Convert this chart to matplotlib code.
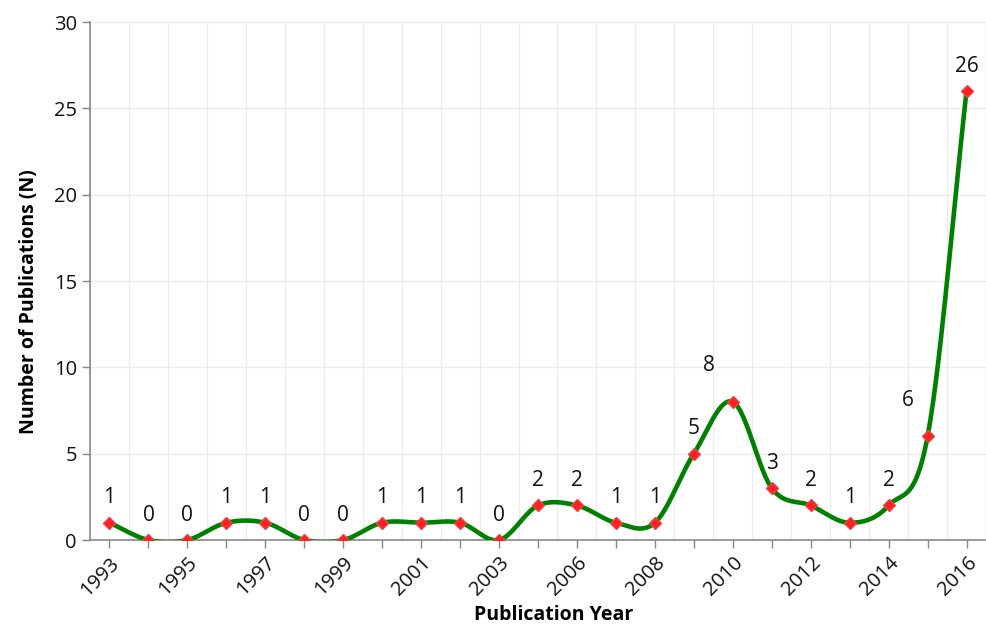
import numpy as np
import matplotlib
matplotlib.use("Agg")
import matplotlib.pyplot as plt

years = ["1993", "1994", "1995", "1996", "1997", "1998", "1999", "2000", "2001", "2002",
         "2003", "2005", "2006", "2007", "2008", "2009", "2010", "2011", "2012", "2013",
         "2014", "2015", "2016"]
counts = [1, 0, 0, 1, 1, 0, 0, 1, 1, 1, 0, 2, 2, 1, 1, 5, 8, 3, 2, 1, 2, 6, 26]
y_ticks = [0, 5, 10, 15, 20, 25, 30]

plt.rcParams['font.family'] = ['Open Sans', 'DejaVu Sans']

fig = plt.figure(figsize=(9.87, 6.24), dpi=100)
ax = fig.add_axes([0.0912, 0.1346, 0.9078, 0.8301])

x = np.arange(len(counts))
y = np.array(counts, dtype=float)

# Catmull-Rom smoothing (Excel-like smoothed line)
xs_all, ys_all = [], []
n = len(y)
for i in range(n - 1):
    p0 = y[i - 1] if i > 0 else y[i]
    p1 = y[i]
    p2 = y[i + 1]
    p3 = y[i + 2] if i + 2 < n else y[i + 1]
    m1 = (p2 - p0) / (2 if i > 0 else 1)
    m2 = (p3 - p1) / (2 if i + 2 < n else 1)
    t = np.linspace(0, 1, 30)
    h00 = 2 * t**3 - 3 * t**2 + 1
    h10 = t**3 - 2 * t**2 + t
    h01 = -2 * t**3 + 3 * t**2
    h11 = t**3 - t**2
    yy = h00 * p1 + h10 * m1 + h01 * p2 + h11 * m2
    xs_all.append(x[i] + t)
    ys_all.append(yy)
xs = np.concatenate(xs_all)
ys = np.concatenate(ys_all)

ax.plot(xs, ys, color='#008000', lw=3.3, zorder=3, solid_capstyle='round')
ax.plot(x, y, linestyle='none', marker='D', markersize=6.5, color='#ff2020',
        markeredgecolor='#e04848', zorder=4)

# data labels
offsets = {16: (-17, 8), 21: (-14, 8)}
for i, v in enumerate(counts):
    dx, dy = offsets.get(i, (0, 0))
    ax.annotate(str(v), (x[i], y[i]), xytext=(dx, 14 + dy), textcoords='offset points',
                ha='center', va='baseline', fontsize=15, color='#111111')

ax.set_xlim(-0.5, len(counts) - 0.5)
ax.set_ylim(0, 30)
ax.set_yticks(y_ticks)
ax.set_yticklabels([str(t) for t in y_ticks])
ax.set_xticks(x)
ax.set_xticklabels([lab if i % 2 == 0 else '' for i, lab in enumerate(years)],
                   rotation=45, ha='right', rotation_mode='anchor')
ax.set_xticks(np.arange(-0.5, len(counts), 1.0), minor=True)

ax.tick_params(axis='both', labelsize=14.5, colors='#888888', labelcolor='#111111', length=6, width=1)
ax.tick_params(axis='x', which='minor', length=0)
ax.grid(True, axis='y', color='#ececec', lw=1)
ax.grid(True, axis='x', which='minor', color='#ececec', lw=1)
ax.grid(False, axis='x', which='major')
ax.set_axisbelow(True)

for s in ['top', 'right']:
    ax.spines[s].set_visible(False)
for s in ['left', 'bottom']:
    ax.spines[s].set_color('#888888')
    ax.spines[s].set_linewidth(1.2)

ax.set_xlabel('Publication Year', fontsize=14, fontweight='bold')
ax.set_ylabel('Number of Publications (N)', fontsize=14, fontweight='bold')
ax.xaxis.set_label_coords(0.517, -0.126)
ax.yaxis.set_label_coords(-0.057, 0.46)

fig.savefig('out.png', dpi=100)
